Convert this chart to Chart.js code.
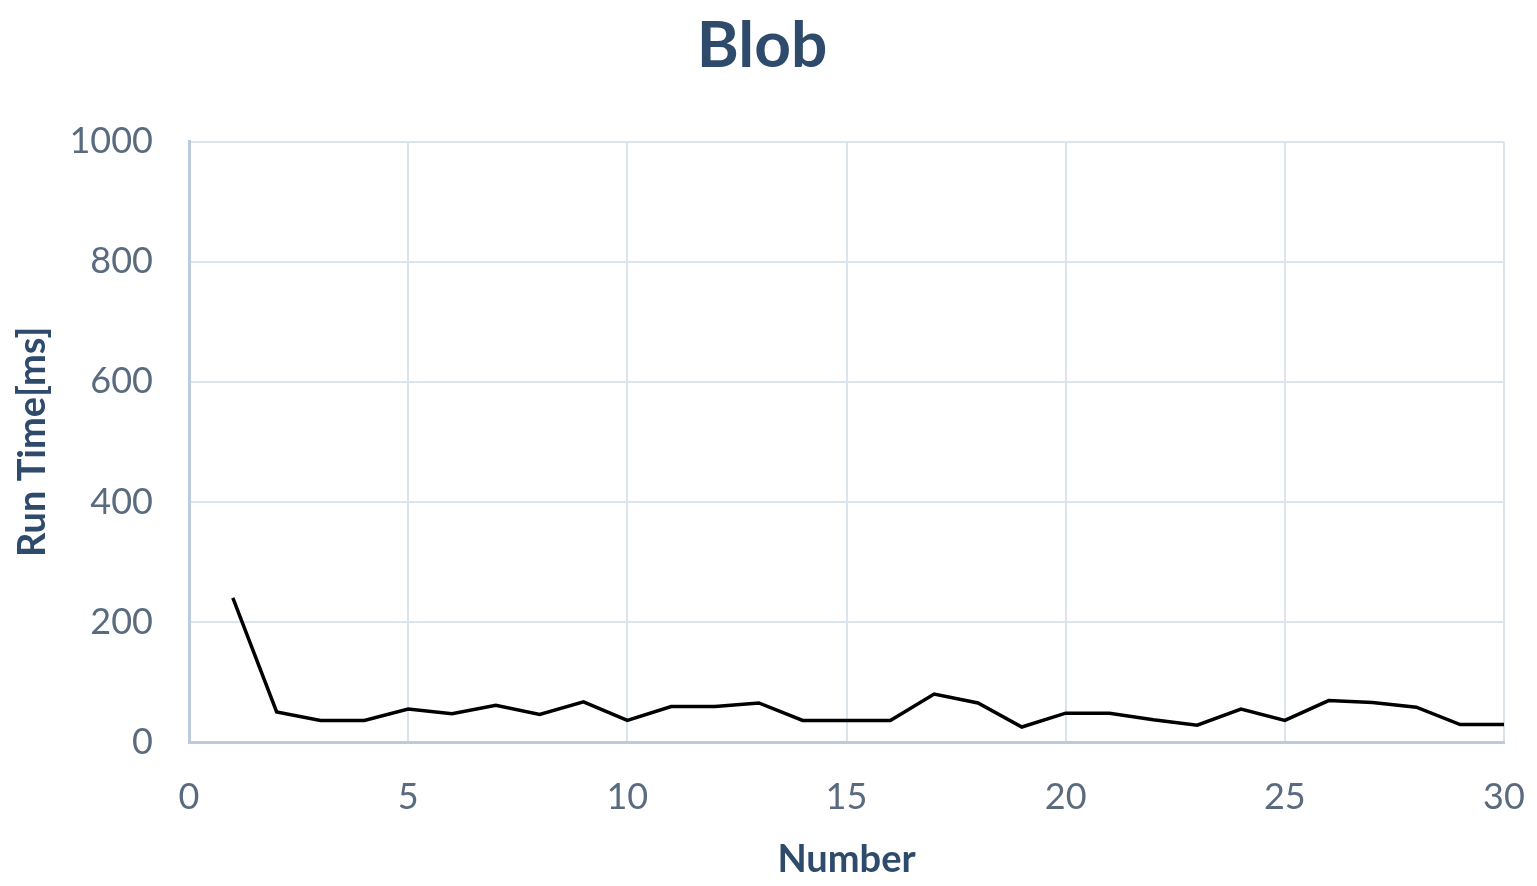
<!DOCTYPE html>
<html>
<head>
<meta charset="utf-8">
<script src="https://cdn.jsdelivr.net/npm/chart.js@4/dist/chart.umd.min.js"></script>
<style>
  html, body { margin: 0; padding: 0; background: #fff; }
  #wrap { width: 1537px; height: 886px; }
</style>
</head>
<body>
<div id="wrap"><canvas id="chart"></canvas></div>
<script>
const runNumbers = [1, 2, 3, 4, 5, 6, 7, 8, 9, 10, 11, 12, 13, 14, 15, 16, 17, 18, 19, 20, 21, 22, 23, 24, 25, 26, 27, 28, 29, 30];
const runTimes = [240, 50, 36, 36, 55, 47, 61, 46, 67, 36, 59, 59, 65, 36, 36, 36, 80, 65, 25, 48, 48, 37, 28, 55, 36, 69, 66, 58, 29, 29];
const xTicks = [0, 5, 10, 15, 20, 25, 30];
const yTicks = [0, 200, 400, 600, 800, 1000];

const fontFamily = "Lato, 'Open Sans', sans-serif";
const gridColor = "#dbe3ec";
const axisColor = "#bccbdb";
const tickColor = "#5a6b80";
const titleColor = "#2e4b6c";

new Chart(document.getElementById("chart"), {
  type: "line",
  data: {
    datasets: [
      {
        label: "Blob",
        data: runNumbers.map((n, i) => ({ x: n, y: runTimes[i] })),
        borderColor: "#000",
        borderWidth: 3.5,
        pointRadius: 0,
        tension: 0,
        fill: false,
      },
    ],
  },
  options: {
    responsive: true,
    maintainAspectRatio: false,
    animation: false,
    layout: { padding: { left: 0, right: 13, top: 0, bottom: 0 } },
    plugins: {
      legend: { display: false },
      tooltip: { enabled: false },
      title: {
        display: true,
        text: "Blob",
        color: titleColor,
        font: { family: fontFamily, size: 64, weight: "bold", lineHeight: 1.2 },
        padding: { top: 8, bottom: 57 },
      },
    },
    scales: {
      x: {
        type: "linear",
        min: 0,
        max: 30,
        afterBuildTicks: (axis) => { axis.ticks = xTicks.map((v) => ({ value: v })); },
        afterFit: (axis) => {
          axis.height = 144;
          axis.paddingRight = 33;
        },
        ticks: {
          color: tickColor,
          font: { family: fontFamily, size: 36 },
          padding: 34,
          callback: (v) => String(v),
        },
        grid: { color: gridColor, lineWidth: 2, drawTicks: false },
        border: { color: axisColor, width: 3 },
        title: {
          display: true,
          text: "Number",
          color: titleColor,
          font: { family: fontFamily, size: 38, weight: "bold", lineHeight: 1.2 },
          padding: { top: 0, bottom: 3 },
        },
      },
      y: {
        min: 0,
        max: 1000,
        afterBuildTicks: (axis) => { axis.ticks = yTicks.map((v) => ({ value: v })); },
        afterFit: (axis) => { axis.width = 189; },
        ticks: {
          color: tickColor,
          font: { family: fontFamily, size: 36 },
          padding: 36,
          callback: (v) => String(v),
        },
        grid: { color: gridColor, lineWidth: 2, drawTicks: false },
        border: { color: axisColor, width: 3 },
        title: {
          display: true,
          text: "Run Time[ms]",
          color: titleColor,
          font: { family: fontFamily, size: 38, weight: "bold", lineHeight: 1.2 },
          padding: { top: 10, bottom: 0 },
        },
      },
    },
  },
});
</script>
</body>
</html>
